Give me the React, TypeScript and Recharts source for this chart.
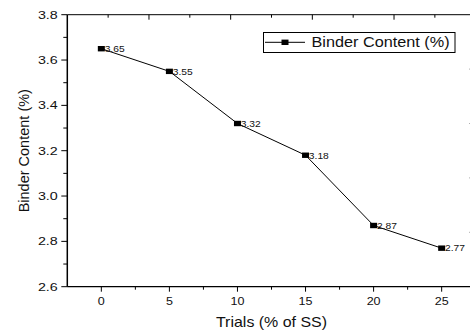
import React from 'react';
import { LineChart, Line, XAxis, YAxis, Label, LabelList, ReferenceLine } from 'recharts';

const trials = [0, 5, 10, 15, 20, 25];
const binderContent = [3.65, 3.55, 3.32, 3.18, 2.87, 2.77];
const xTicks = [0, 2.5, 5, 7.5, 10, 12.5, 15, 17.5, 20, 22.5, 25, 27.5];
const yTicks = [2.6, 2.7, 2.8, 2.9, 3.0, 3.1, 3.2, 3.3, 3.4, 3.5, 3.6, 3.7, 3.8];
// secondary (top / right) frame axes: 0..5 scales spanning the plot
const topTicks = [0.5, 1, 1.5, 2, 2.5, 3, 3.5, 4, 4.5];
const rightTicks = [1, 2, 3, 4];
const X_DOMAIN: [number, number] = [-2.5, 27.5];
const Y_DOMAIN: [number, number] = [2.6, 3.8];
const seriesName = 'Binder Content (%)';
const xTitle = 'Trials (% of SS)';
const yTitle = 'Binder Content (%)';

const data = trials.map((t, i) => ({ trial: t, binder: binderContent[i] }));
const topToX = (t: number) => X_DOMAIN[0] + (t / 5) * (X_DOMAIN[1] - X_DOMAIN[0]);
const rightToY = (r: number) => Y_DOMAIN[0] + (r / 5) * (Y_DOMAIN[1] - Y_DOMAIN[0]);

const FONT = '"Liberation Sans", Arial, sans-serif';
const INK = '#111';
const SX = 1.14;

function SText({ x, y, size, anchor = 'start', sx = SX, children, rotate = 0 }: any) {
  const tf = rotate
    ? `translate(${x},${y}) rotate(${rotate}) scale(1,${sx})`
    : `translate(${x},${y}) scale(${sx},1)`;
  return (
    <text transform={tf} fontFamily={FONT} fontSize={size} fill={INK} textAnchor={anchor}>
      {children}
    </text>
  );
}

const XTick = (props: any) => {
  const { x, y, payload } = props;
  const major = Math.abs(payload.value / 5 - Math.round(payload.value / 5)) < 1e-6;
  return (
    <g>
      <line x1={x} x2={x} y1={y} y2={y + (major ? 5 : 3)} stroke="#000" strokeWidth={1} />
      {major && (
        <SText x={x} y={y + 18.5} size={11} anchor="middle">
          {payload.value}
        </SText>
      )}
    </g>
  );
};

const YTick = (props: any) => {
  const { x, y, payload } = props;
  const major = Math.round(payload.value * 10) % 2 === 0;
  return (
    <g>
      <line x1={x - (major ? 6 : 4)} x2={x} y1={y} y2={y} stroke="#000" strokeWidth={1} />
      {major && (
        <SText x={x - 9.5} y={y + 4} size={11} anchor="end" sx={1.3}>
          {payload.value.toFixed(1)}
        </SText>
      )}
    </g>
  );
};

const SquareDot = (props: any) => {
  const { cx, cy, index } = props;
  if (cx == null || cy == null) return <g key={index} />;
  return <rect key={index} x={cx - 3.5} y={cy - 2.7} width={7} height={5.4} fill="#000" />;
};

const ValueLabel = (props: any) => {
  const { x, y, value } = props;
  return (
    <SText x={x + 3.3} y={y + 3.3} size={9}>
      {Number(value).toFixed(2)}
    </SText>
  );
};

const topTickShape = (major: boolean) => (p: any) => {
  const top = Math.min(p.y1, p.y2);
  return <line x1={p.x1} x2={p.x1} y1={top} y2={top + (major ? 5 : 3)} stroke="#000" strokeWidth={1} />;
};

const rightTickShape = (p: any) => {
  const right = Math.max(p.x1, p.x2);
  return <line x1={right - 6} x2={right} y1={p.y1} y2={p.y1} stroke="#000" strokeWidth={1} />;
};

export default function App() {
  return (
    <div
      style={{
        position: 'absolute',
        left: 0,
        top: 0,
        width: 470,
        height: 331,
        overflow: 'hidden',
        background: '#fff',
      }}
    >
      <LineChart
        width={480}
        height={331}
        data={data}
        margin={{ top: 14.7, right: 4.3, left: 0, bottom: 0 }}
      >
        <XAxis
          dataKey="trial"
          type="number"
          domain={X_DOMAIN}
          ticks={xTicks}
          interval={0}
          tick={(p: any) => <XTick {...p} />}
          tickLine={false}
          tickSize={0}
          tickMargin={0}
          height={44.3}
          axisLine={{ stroke: '#000', strokeWidth: 1.3 }}
          allowDataOverflow
        >
          <Label
            content={(p: any) => {
              const vb = p.viewBox;
              return (
                <SText x={vb.x + vb.width / 2} y={vb.y + 40} size={14} anchor="middle">
                  {xTitle}
                </SText>
              );
            }}
          />
        </XAxis>
        <YAxis
          type="number"
          domain={Y_DOMAIN}
          ticks={yTicks}
          interval={0}
          tick={(p: any) => <YTick {...p} />}
          tickLine={false}
          tickSize={0}
          tickMargin={0}
          width={67.3}
          axisLine={{ stroke: '#000', strokeWidth: 1.5 }}
          allowDataOverflow
        >
          <Label
            content={(p: any) => {
              const vb = p.viewBox;
              return (
                <SText x={vb.x + 29} y={vb.y + vb.height / 2} size={14.5} anchor="middle" rotate={-90} sx={1.0}>
                  {yTitle}
                </SText>
              );
            }}
          />
        </YAxis>
        <ReferenceLine y={Y_DOMAIN[1]} stroke="#000" strokeWidth={1} />
        <ReferenceLine x={X_DOMAIN[1]} stroke="#000" strokeWidth={1} />
        {topTicks.map((t) => (
          <ReferenceLine
            key={`top-${t}`}
            x={topToX(t)}
            stroke="#000"
            shape={topTickShape(Number.isInteger(t))}
          />
        ))}
        {rightTicks.map((r) => (
          <ReferenceLine key={`right-${r}`} y={rightToY(r)} stroke="#000" shape={rightTickShape} />
        ))}
        <Line
          dataKey="binder"
          name={seriesName}
          stroke="#000"
          strokeWidth={1}
          dot={(p: any) => <SquareDot {...p} />}
          isAnimationActive={false}
        >
          <LabelList dataKey="binder" content={(p: any) => <ValueLabel {...p} />} />
        </Line>
      </LineChart>
      <svg
        width={193}
        height={21}
        style={{ position: 'absolute', left: 263, top: 32 }}
      >
        <rect x={0.5} y={0.5} width={191.5} height={20} fill="#fff" stroke="#000" strokeWidth={1} />
        <line x1={2} x2={42} y1={10.3} y2={10.3} stroke="#000" strokeWidth={1} />
        <rect x={18.5} y={7.6} width={7} height={5.4} fill="#000" />
        <SText x={48.5} y={15.3} size={14} sx={1.16}>
          {seriesName}
        </SText>
      </svg>
    </div>
  );
}
